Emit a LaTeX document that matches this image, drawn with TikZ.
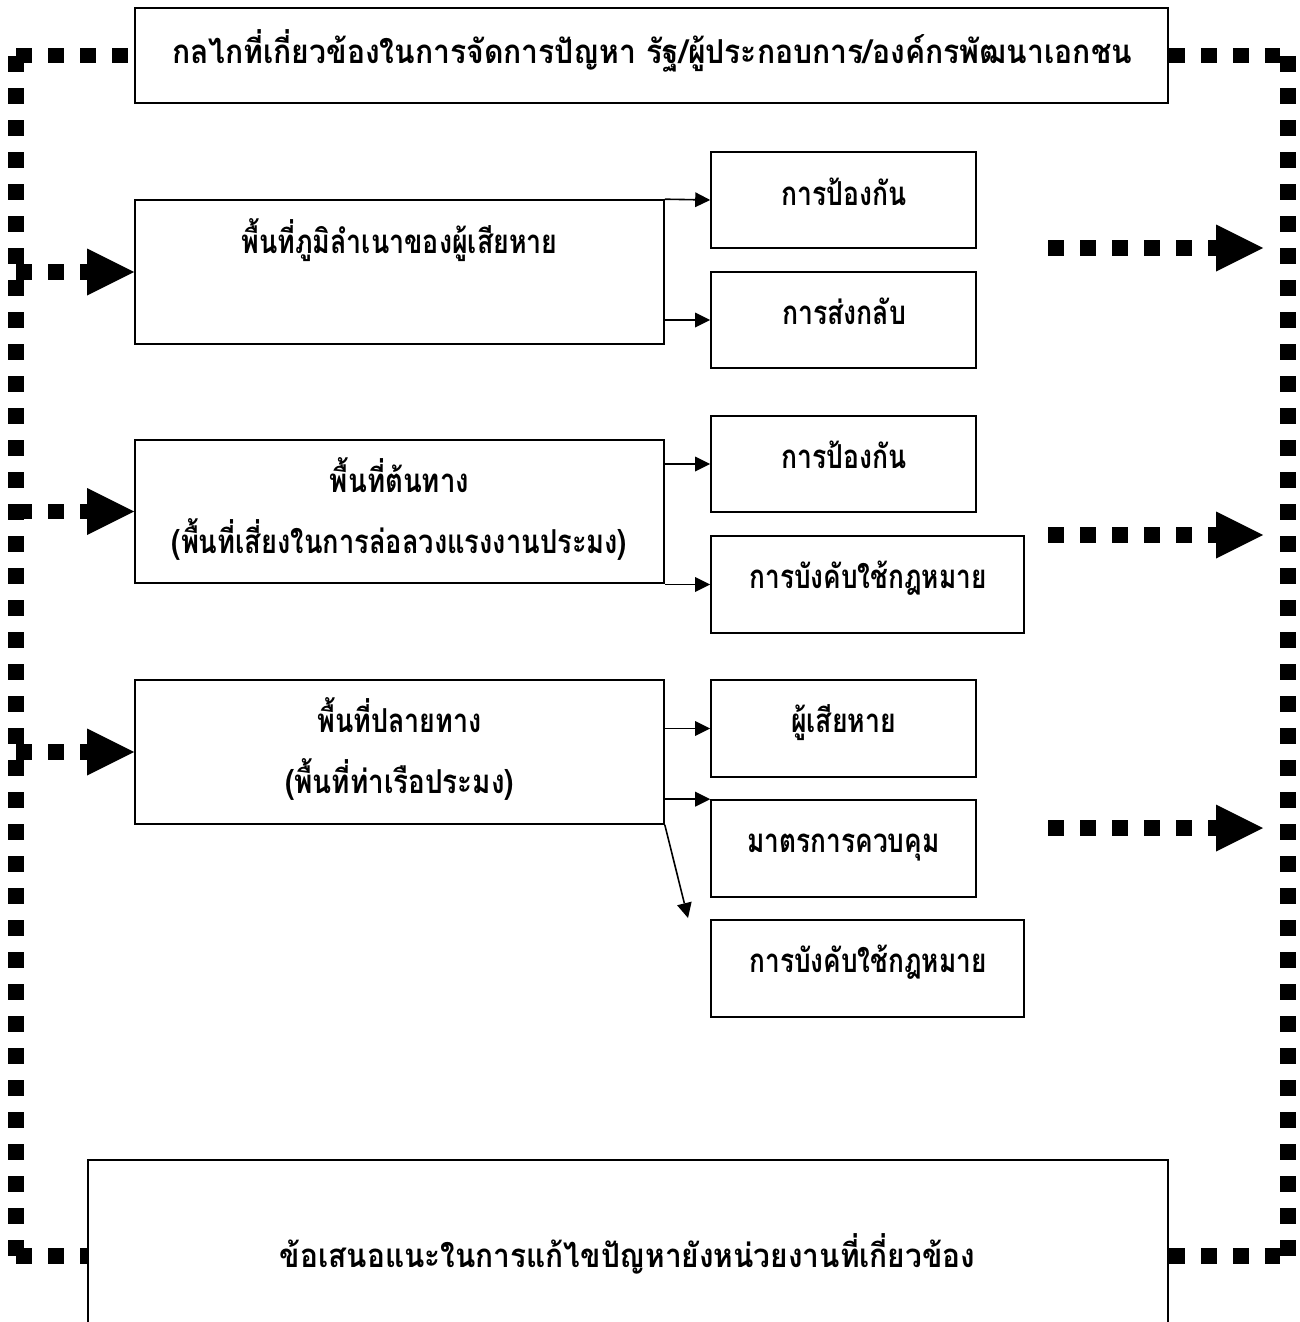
\documentclass[tikz,border=0pt]{standalone}
\usepackage{fontspec}
\usepackage{graphicx}
\newfontfamily\thaifont[Script=Thai]{Loma}
\newcommand\fitw[2]{\resizebox{#1}{\height}{#2}}
\usetikzlibrary{arrows.meta}
\tikzset{
  box/.style={draw, line width=1.6pt, inner sep=0pt},
  txt/.style={font=\thaifont\bfseries\fontsize{33}{37}\selectfont, inner sep=0pt, anchor=base},
  border/.style={line width=15.5pt, dash pattern=on 16pt off 16pt},
  bigarrow/.style={border, -{Triangle[length=47pt,width=47pt,line width=0pt]}},
  smallarrow/.style={line width=1.6pt, -{Triangle[length=15pt,width=15pt,line width=0pt]}},
}
\begin{document}
\begin{tikzpicture}[x=1pt,y=-1pt]
\useasboundingbox (0,0) rectangle (1300,1322);
\clip (0,0) rectangle (1300,1322);
\fill[white] (0,0) rectangle (1300,1322);
% boxes
\node[box, minimum width=1033pt, minimum height=95pt] (T) at (651.5,55.5) {};
\node[box, minimum width=529pt, minimum height=144pt] (L1) at (399.5,272) {};
\node[box, minimum width=265pt, minimum height=96pt] (R1a) at (843.5,200) {};
\node[box, minimum width=265pt, minimum height=96pt] (R1b) at (843.5,320) {};
\node[box, minimum width=529pt, minimum height=143pt] (L2) at (399.5,511.5) {};
\node[box, minimum width=265pt, minimum height=96pt] (R2a) at (843.5,464) {};
\node[box, minimum width=313pt, minimum height=97pt] (R2b) at (867.5,584.5) {};
\node[box, minimum width=529pt, minimum height=144pt] (L3) at (399.5,752) {};
\node[box, minimum width=265pt, minimum height=97pt] (R3a) at (843.5,728.5) {};
\node[box, minimum width=265pt, minimum height=97pt] (R3b) at (843.5,848.5) {};
\node[box, minimum width=313pt, minimum height=97pt] (R3c) at (867.5,968.5) {};
\node[box, minimum width=1080pt, minimum height=180pt] (B) at (628,1250) {};
% texts
\node[txt] (tT) at (652,64) {\fitw{960pt}{กลไกที่เกี่ยวข้องในการจัดการปัญหา รัฐ/ผู้ประกอบการ/องค์กรพัฒนาเอกชน}};
\node[txt] (tL1) at (399.5,253) {\fitw{316pt}{พื้นที่ภูมิลำเนาของผู้เสียหาย}};
\node[txt] (tR1a) at (844,205) {\fitw{125pt}{การป้องกัน}};
\node[txt] (tR1b) at (844,324) {\fitw{124pt}{การส่งกลับ}};
\node[txt] (tL2a) at (399.5,492) {\fitw{139pt}{พื้นที่ต้นทาง}};
\node[txt] (tL2b) at (399.5,553) {\fitw{455pt}{(พื้นที่เสี่ยงในการล่อลวงแรงงานประมง)}};
\node[txt] (tR2a) at (844,468) {\fitw{125pt}{การป้องกัน}};
\node[txt] (tR2b) at (868,588) {\fitw{237pt}{การบังคับใช้กฎหมาย}};
\node[txt] (tL3a) at (399.5,732) {\fitw{164pt}{พื้นที่ปลายทาง}};
\node[txt] (tL3b) at (399.5,793) {\fitw{229pt}{(พื้นที่ท่าเรือประมง)}};
\node[txt] (tR3a) at (843.5,732) {\fitw{105pt}{ผู้เสียหาย}};
\node[txt] (tR3b) at (843.5,852) {\fitw{192pt}{มาตรการควบคุม}};
\node[txt] (tR3c) at (868,972) {\fitw{237pt}{การบังคับใช้กฎหมาย}};
\node[txt] (tB) at (627.5,1267) {\fitw{695pt}{ข้อเสนอแนะในการแก้ไขปัญหายังหน่วยงานที่เกี่ยวข้อง}};
% dashed frame
\coordinate (tl) at (16,55.5);
\coordinate (tr) at (1280,55.5);
\coordinate (lt) at (16,56);
\coordinate (lb) at (16,1256);
\coordinate (rt) at (1288,56);
\coordinate (rb) at (1288,1256);
\coordinate (bl) at (16,1256);
\coordinate (br) at (1280,1256);
\draw[border] (tl) -- (T.west);
\draw[border] (T.east) -- (tr);
\draw[border] (lt) -- (lb);
\draw[border] (rt) -- (rb);
\draw[border] (bl) -- (B.west |- bl);
\draw[border] (B.east |- br) -- (br);
% big dashed arrows
\coordinate (la1) at (16,272);
\coordinate (la2) at (16,511.5);
\coordinate (la3) at (16,752);
\draw[bigarrow] (la1) -- (L1.west);
\draw[bigarrow] (la2) -- (L2.west);
\draw[bigarrow] (la3) -- (L3.west);
\coordinate (ra1s) at (1048,248);
\coordinate (ra1e) at (1263,248);
\coordinate (ra2s) at (1048,535);
\coordinate (ra2e) at (1263,535);
\coordinate (ra3s) at (1048,828);
\coordinate (ra3e) at (1263,828);
\draw[bigarrow] (ra1s) -- (ra1e);
\draw[bigarrow] (ra2s) -- (ra2e);
\draw[bigarrow] (ra3s) -- (ra3e);
% small arrows
\draw[smallarrow] (L1.north east) -- (R1a.west);
\draw[smallarrow] (L1.east |- R1b.west) -- (R1b.west);
\draw[smallarrow] (L2.east |- R2a.west) -- (R2a.west);
\draw[smallarrow] (L2.east |- R2b.west) -- (R2b.west);
\draw[smallarrow] (L3.east |- R3a.west) -- (R3a.west);
\draw[smallarrow] (L3.east |- R3b.north west) -- (R3b.north west);
\coordinate (d3) at (688,918);
\draw[smallarrow] (L3.south east) -- (d3);
\end{tikzpicture}
\end{document}
